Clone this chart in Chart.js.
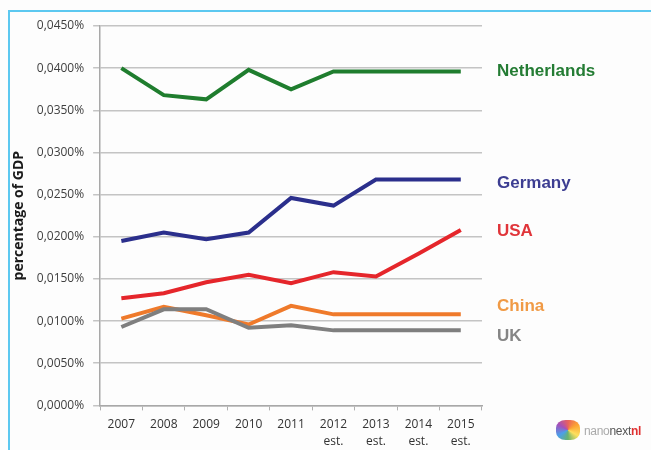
<!DOCTYPE html>
<html>
<head>
<meta charset="utf-8">
<script src="https://cdn.jsdelivr.net/npm/chart.js@4/dist/chart.umd.min.js"></script>
<style>
  html, body { margin: 0; padding: 0; background: #ffffff; }
  #wrap { position: relative; width: 651px; height: 450px; overflow: hidden; background: #fdfdfd; }
  #frame { position: absolute; left: 8px; top: 10px; width: 700px; height: 500px; border-left: 2px solid #5cc8f0; border-top: 2px solid #5cc8f0; box-sizing: border-box; pointer-events: none; }
  canvas { position: absolute; left: 0; top: 0; }
  #logo { position: absolute; left: 584px; top: 424px; font-family: "Liberation Sans", Arial, sans-serif; font-size: 12px; color: #aaa; letter-spacing: -0.3px; }
  #logo b { color: #555; font-weight: normal; }
  #logo i { color: #e03030; font-style: normal; font-weight: bold; }
  #mark { position: absolute; left: 556px; top: 420px; width: 24px; height: 20px;
    background: conic-gradient(#e53935, #fb8c00, #fdd835, #43a047, #1e88e5, #8e24aa, #e53935); border-radius: 40%; opacity: 0.8; }
</style>
</head>
<body>
<div id="wrap">
  <canvas id="c" width="651" height="450"></canvas>
  <div id="frame"></div>
  <div id="mark"></div>
  <div id="logo">nano<b>next</b><i>nl</i></div>
</div>
<script>
const categories = ["2007", "2008", "2009", "2010", "2011", ["2012", "est."], ["2013", "est."], ["2014", "est."], ["2015", "est."]];
const netherlands = [0.0400, 0.0368, 0.0363, 0.0398, 0.0375, 0.0396, 0.0396, 0.0396, 0.0396];
const germany     = [0.0195, 0.0205, 0.0197, 0.0205, 0.0246, 0.0237, 0.0268, 0.0268, 0.0268];
const usa         = [0.0127, 0.0133, 0.0146, 0.0155, 0.0145, 0.0158, 0.0153, 0.0180, 0.0208];
const china       = [0.0103, 0.0117, 0.0107, 0.0096, 0.0118, 0.0108, 0.0108, 0.0108, 0.0108];
const uk          = [0.0093, 0.0114, 0.0114, 0.0092, 0.0095, 0.0089, 0.0089, 0.0089, 0.0089];
const seriesNames = ["Netherlands", "Germany", "USA", "China", "UK"];
const labelValues = [0.0396, 0.0264, 0.0206, 0.0117, 0.0082];
const yTicks = { min: 0, max: 0.045, step: 0.005 };

const lineColors  = ["#1f7d2e", "#2b2f8c", "#e5262b", "#ef7a2b", "#7f7f7f"];
const labelColors = ["#247c34", "#3d3e92", "#e0353a", "#f09a45", "#858585"];

const endLabels = {
  id: 'endLabels',
  afterDraw(chart) {
    const ctx = chart.ctx;
    const y = chart.scales.y;
    const x0 = chart.chartArea.right + 15;
    ctx.save();
    ctx.font = 'bold 17px "Liberation Sans", Arial, sans-serif';
    ctx.textBaseline = 'middle';
    ctx.textAlign = 'left';
    seriesNames.forEach((n, i) => {
      ctx.fillStyle = labelColors[i];
      ctx.fillText(n, x0, y.getPixelForValue(labelValues[i]));
    });
    ctx.restore();
  }
};

const data = [netherlands, germany, usa, china, uk];
new Chart(document.getElementById('c'), {
  type: 'line',
  data: {
    labels: categories,
    datasets: seriesNames.map((n, i) => ({
      label: n,
      data: data[i],
      borderColor: lineColors[i],
      backgroundColor: lineColors[i],
      borderWidth: 4,
      pointRadius: 0,
      tension: 0,
      borderJoinStyle: 'miter',
      fill: false
    })).reverse()
  },
  options: {
    responsive: false,
    animation: false,
    devicePixelRatio: 1,
    layout: { padding: { left: 11, right: 169, top: 26, bottom: -6 } },
    plugins: { legend: { display: false }, tooltip: { enabled: false } },
    scales: {
      x: {
        offset: true,
        grid: { offset: true, drawOnChartArea: false, color: '#b0b0b0', tickLength: 5, lineWidth: 1 },
        border: { color: '#a8a8a8', width: 1.5 },
        ticks: { color: '#333', font: { family: '"Open Sans", "Liberation Sans", sans-serif', size: 12, lineHeight: 1.4 }, maxRotation: 0, autoSkip: false, padding: 6 }
      },
      y: {
        min: yTicks.min, max: yTicks.max,
        grid: { color: '#c4c4c4', lineWidth: 1.5, tickLength: 7 },
        border: { color: '#a8a8a8', width: 1.5 },
        ticks: {
          stepSize: yTicks.step,
          color: '#404040',
          font: { family: '"Open Sans", "Liberation Sans", sans-serif', size: 12 },
          padding: 9,
          callback: v => v.toFixed(4).replace('.', ',') + '%'
        },
        title: {
          display: true,
          text: 'percentage of GDP',
          color: '#1a1a1a',
          font: { family: '"Open Sans", "Liberation Sans", sans-serif', size: 14, weight: 'bold' },
          padding: { top: 0, bottom: 0 }
        }
      }
    }
  },
  plugins: [endLabels]
});
</script>
</body>
</html>
